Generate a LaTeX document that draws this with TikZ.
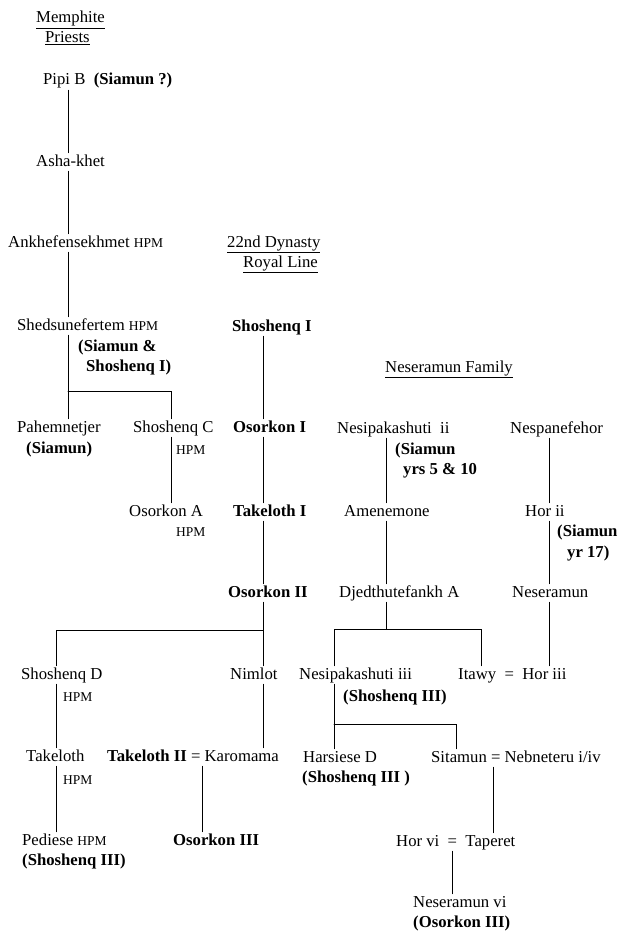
\documentclass[tikz,border=0pt]{standalone}
\usepackage{fontspec}
\setmainfont{Liberation Serif}
\newcommand\base{\fontsize{16.7}{20}\selectfont}
\newcommand\hpm{{\fontsize{13.5}{14}\selectfont HPM}}
\begin{document}
\begin{tikzpicture}[x=1pt,y=-1pt,line cap=round,
	who/.style={anchor=west,inner xsep=0pt,inner ysep=1.5pt,text height=11.5pt,text depth=3.5pt,font=\base},
	reign/.style={who,font=\base\bfseries},
	tie/.style={line width=0.7pt}]
	\useasboundingbox (0,0) rectangle (618,931);
	% columns and forks
	\path
	(68,0) coordinate (xM) (171,0) coordinate (xC) (263,0) coordinate (xR)
	(56,0) coordinate (xD) (202,0) coordinate (xT) (386,0) coordinate (xN)
	(549,0) coordinate (xH) (334,0) coordinate (xP) (481,0) coordinate (xI)
	(456,0) coordinate (xS) (493,0) coordinate (xB) (452,0) coordinate (xV)
	(68,391) coordinate (forkM) (263,630) coordinate (forkR)
	(386,629) coordinate (forkN) (334,724) coordinate (forkP)
	;
	% headings
	\node[who] (mem1) at (36,19) {\underline{Memphite}};
	\node[who] (mem2) at (45,39) {\underline{Priests}};
	\node[who] (dyn1) at (227,243) {\underline{22nd Dynasty}};
	\node[who] (dyn2) at (243,263) {\underline{Royal Line}};
	\node[who] (fam) at (385,368) {\underline{Neseramun Family}};
	% Memphite priests
	\node[who] (pipi) at (43,81) {Pipi B\enspace\textbf{(Siamun ?)}};
	\node[who] (asha) at (36,162) {Asha-khet};
	\node[who] (ankh) at (8,243) {Ankhefensekhmet \hpm};
	\node[who] (shed) at (17,326) {Shedsunefertem \hpm};
	\node[reign] (shedA) at (78,347) {(Siamun \&};
	\node[reign] (shedB) at (86,367) {Shoshenq I)};
	\node[who] (pah) at (17,428) {Pahemnetjer};
	\node[reign] (pahA) at (26,449) {(Siamun)};
	\node[who] (shC) at (133,428) {Shoshenq C};
	\node[who] (shCh) at (176,450) {\hpm};
	\node[who] (osA) at (129,512) {Osorkon A};
	\node[who] (osAh) at (176,532) {\hpm};
	% royal line
	\node[reign] (shI) at (232,327) {Shoshenq I};
	\node[reign] (osI) at (233,428) {Osorkon I};
	\node[reign] (takI) at (233,512) {Takeloth I};
	\node[reign] (osII) at (228,593) {Osorkon II};
	\node[who] (shD) at (21,675) {Shoshenq D};
	\node[who] (shDh) at (63,697) {\hpm};
	\node[who] (nim) at (230,675) {Nimlot};
	\node[who] (tak) at (26,757) {Takeloth};
	\node[who] (takh) at (63,780) {\hpm};
	\node[who] (takII) at (107,757) {\textbf{Takeloth II} = Karomama};
	\node[who] (ped) at (22,841) {Pediese \hpm};
	\node[reign] (pedA) at (22,861) {(Shoshenq III)};
	\node[reign] (osIII) at (173,841) {Osorkon III};
	% Neseramun family
	\node[who] (nesii) at (337,429) {Nesipakashuti\enspace ii};
	\node[reign] (nesiiA) at (395,450) {(Siamun};
	\node[reign] (nesiiB) at (403,470) {yrs 5 \& 10};
	\node[who] (nesp) at (510,429) {Nespanefehor};
	\node[who] (amen) at (344,512) {Amenemone};
	\node[who] (horii) at (525,512) {Hor ii};
	\node[reign] (horiiA) at (557,532) {(Siamun};
	\node[reign] (horiiB) at (567,553) {yr 17)};
	\node[who] (djed) at (339,593) {Djedthutefankh A};
	\node[who] (nesr) at (512,593) {Neseramun};
	\node[who] (nesiii) at (299,675) {Nesipakashuti iii};
	\node[reign] (nesiiiA) at (343,697) {(Shoshenq III)};
	\node[who] (itawy) at (458,675) {Itawy\enspace=\enspace Hor iii};
	\node[who] (hars) at (303,758) {Harsiese D};
	\node[reign] (harsA) at (302,778) {(Shoshenq III )};
	\node[who] (sita) at (431,758) {Sitamun = Nebneteru i/iv};
	\node[who] (horvi) at (396,842) {Hor vi\enspace=\enspace Taperet};
	\node[who] (nesvi) at (413,903) {Neseramun vi};
	\node[reign] (nesviA) at (413,923) {(Osorkon III)};
	% lines of descent
	\draw[tie] (xM |- pipi.south) -- (xM |- asha.north);
	\draw[tie] (xM |- asha.south) -- (xM |- ankh.north);
	\draw[tie] (xM |- ankh.south) -- (xM |- shed.north);
	\draw[tie] (xM |- shed.south) -- (xM |- pah.north);
	\draw[tie] (forkM) -| (xC |- shC.north);
	\draw[tie] (xC |- shC.south) -- (xC |- osA.north);
	\draw[tie] (xR |- shI.south) -- (xR |- osI.north);
	\draw[tie] (xR |- osI.south) -- (xR |- takI.north);
	\draw[tie] (xR |- takI.south) -- (xR |- osII.north);
	\draw[tie] (xR |- osII.south) -- (xR |- nim.north);
	\draw[tie] (forkR) -| (xD |- shD.north);
	\draw[tie] (xD |- shD.south) -- (xD |- tak.north);
	\draw[tie] (xD |- tak.south) -- (xD |- ped.north);
	\draw[tie] (xR |- nim.south) -- (xR |- takII.north);
	\draw[tie] (xT |- takII.south) -- (xT |- osIII.north);
	\draw[tie] (xN |- nesii.south) -- (xN |- amen.north);
	\draw[tie] (xN |- amen.south) -- (xN |- djed.north);
	\draw[tie] (xN |- djed.south) -- (forkN);
	\draw[tie] (xP |- nesiii.north) -- (xP |- forkN) -- (xI |- forkN) -- (xI |- itawy.north);
	\draw[tie] (xH |- nesp.south) -- (xH |- horii.north);
	\draw[tie] (xH |- horii.south) -- (xH |- nesr.north);
	\draw[tie] (xH |- nesr.south) -- (xH |- itawy.north);
	\draw[tie] (xP |- nesiii.south) -- (xP |- hars.north);
	\draw[tie] (forkP) -| (xS |- sita.north);
	\draw[tie] (xB |- sita.south) -- (xB |- horvi.north);
	\draw[tie] (xV |- horvi.south) -- (xV |- nesvi.north);
\end{tikzpicture}
\end{document}
